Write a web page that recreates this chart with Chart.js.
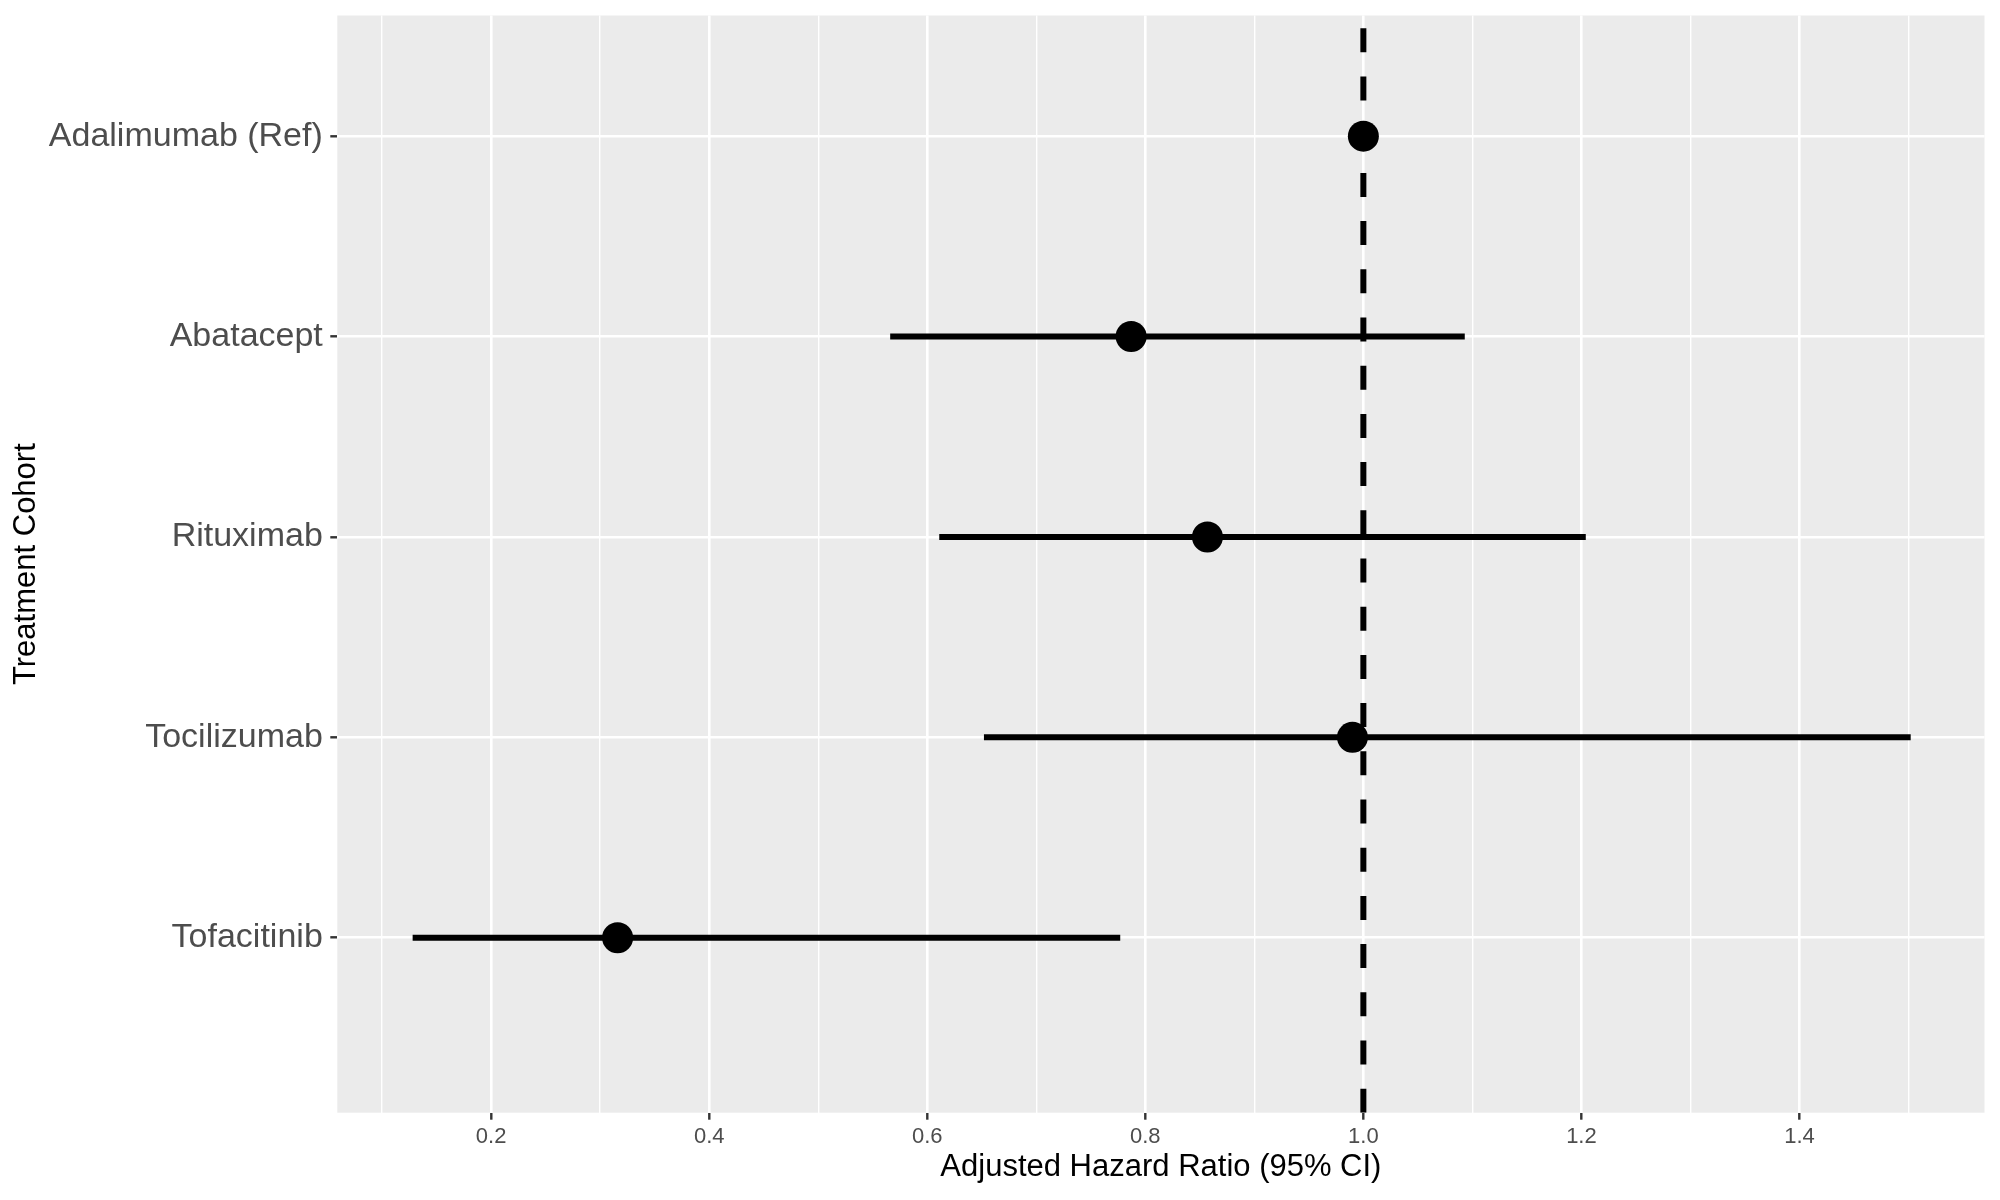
<!DOCTYPE html>
<html>
<head>
<meta charset="utf-8">
<title>Adjusted Hazard Ratio by Treatment Cohort</title>
<script src="https://cdn.jsdelivr.net/npm/chart.js@4.4.1/dist/chart.umd.min.js"></script>
<style>
    html, body { margin: 0; padding: 0; background: #ffffff; }
    #wrap { width: 2000px; height: 1200px; }
</style>
</head>
<body>
<div id="wrap"><canvas id="forest" width="2000" height="1200"></canvas></div>
<script>
        const categories = ['Adalimumab (Ref)', 'Abatacept', 'Rituximab', 'Tocilizumab', 'Tofacitinib'];
        const hazardRatio = [1.00, 0.787, 0.857, 0.990, 0.316];
        const ciLower = [null, 0.566, 0.611, 0.652, 0.128];
        const ciUpper = [null, 1.093, 1.204, 1.502, 0.777];
        const referenceLine = 1.0;

        const xMajorTicks = [0.2, 0.4, 0.6, 0.8, 1.0, 1.2, 1.4];
        const xMinorTicks = [0.1, 0.3, 0.5, 0.7, 0.9, 1.1, 1.3, 1.5];
        const xMin = 0.0589, xMax = 1.5697;
        const yMin = -0.602, yMax = 4.873;

        const FONT = '"Liberation Sans", Arial, sans-serif';

        function isMajor(v) {
            return xMajorTicks.some(t => Math.abs(t - v) < 1e-9);
        }

        // grey panel behind the plot, like ggplot's theme_grey
        const panelBackground = {
            id: 'panelBackground',
            beforeDraw(chart) {
                const { ctx, chartArea } = chart;
                ctx.save();
                ctx.fillStyle = '#EBEBEB';
                ctx.fillRect(chartArea.left, chartArea.top,
                    chartArea.right - chartArea.left, chartArea.bottom - chartArea.top);
                ctx.restore();
            }
        };

        // no extra room for half-labels at the axis ends
        function noEdgePadding(axis) {
            axis.paddingTop = 0;
            axis.paddingBottom = 0;
            axis.paddingLeft = 0;
            axis.paddingRight = 0;
        }

        function buildDatasets() {
            const sets = [];

            sets.push({
                label: 'Hazard ratio',
                data: hazardRatio.map((v, i) => ({ x: v, y: i })),
                backgroundColor: '#000000',
                borderWidth: 0,
                pointRadius: 15.5,
                pointHoverRadius: 15.5,
                showLine: false
            });

            sets.push({
                label: 'Reference',
                data: [{ x: referenceLine, y: yMax }, { x: referenceLine, y: yMin }],
                borderColor: '#000000',
                borderWidth: 6,
                borderDash: [24, 24.2],
                pointRadius: 0,
                showLine: true
            });

            categories.forEach((c, i) => {
                if (ciLower[i] === null) return;
                sets.push({
                    label: c + ' CI',
                    data: [{ x: ciLower[i], y: i }, { x: ciUpper[i], y: i }],
                    borderColor: '#000000',
                    borderWidth: 6,
                    borderCapStyle: 'butt',
                    pointRadius: 0,
                    showLine: true
                });
            });

            return sets;
        }

        function drawChart() {
            const ctx = document.getElementById('forest').getContext('2d');
            new Chart(ctx, {
                type: 'scatter',
                data: { datasets: buildDatasets() },
                plugins: [panelBackground],
                options: {
                    responsive: false,
                    devicePixelRatio: 1,
                    animation: false,
                    events: [],
                    layout: { padding: { top: 15, right: 15, left: 0, bottom: 0 } },
                    plugins: {
                        legend: { display: false },
                        tooltip: { enabled: false }
                    },
                    scales: {
                        x: {
                            type: 'linear',
                            min: xMin,
                            max: xMax,
                            afterBuildTicks: axis => {
                                axis.ticks = xMajorTicks.concat(xMinorTicks)
                                    .sort((a, b) => a - b)
                                    .map(v => ({ value: v }));
                            },
                            afterFit: axis => { axis.height = 87.3; noEdgePadding(axis); },
                            border: { display: false },
                            grid: {
                                color: '#FFFFFF',
                                lineWidth: c => (c.tick && isMajor(c.tick.value)) ? 2.6 : 1.4,
                                tickColor: c => (c.tick && isMajor(c.tick.value)) ? '#333333' : 'rgba(0,0,0,0)',
                                tickWidth: 2.4,
                                tickLength: 7
                            },
                            ticks: {
                                autoSkip: false,
                                maxRotation: 0,
                                padding: 4,
                                color: '#4D4D4D',
                                font: { family: FONT, size: 22 },
                                callback: v => isMajor(v) ? v.toFixed(1) : ''
                            },
                            title: {
                                display: true,
                                text: 'Adjusted Hazard Ratio (95% CI)',
                                color: '#000000',
                                font: { family: FONT, size: 31 },
                                padding: { top: 0, bottom: 14 }
                            }
                        },
                        y: {
                            type: 'linear',
                            reverse: true,
                            min: yMin,
                            max: yMax,
                            afterBuildTicks: axis => {
                                axis.ticks = categories.map((c, i) => ({ value: i }));
                            },
                            afterFit: axis => { axis.width = 337.3; noEdgePadding(axis); },
                            border: { display: false },
                            grid: {
                                color: '#FFFFFF',
                                lineWidth: 2.6,
                                tickColor: '#333333',
                                tickWidth: 2.4,
                                tickLength: 7
                            },
                            ticks: {
                                autoSkip: false,
                                padding: 7.5,
                                color: '#4D4D4D',
                                font: { family: FONT, size: 34 },
                                callback: v => categories[v]
                            },
                            title: {
                                display: true,
                                text: 'Treatment Cohort',
                                color: '#000000',
                                font: { family: FONT, size: 31 },
                                padding: { top: 8, bottom: 0 }
                            }
                        }
                    }
                }
            });
        }

        window.onload = drawChart;
</script>
</body>
</html>
